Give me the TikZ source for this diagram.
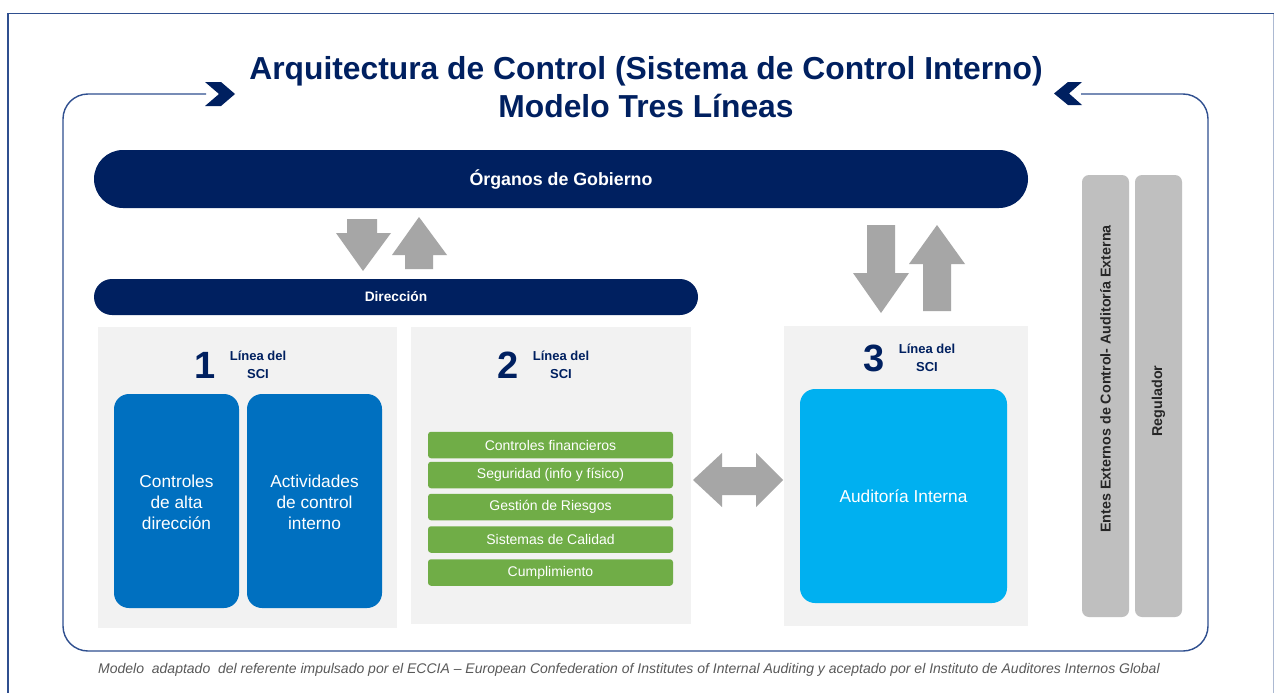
\documentclass[tikz,border=0pt]{standalone}
\usepackage{fontspec}
\setmainfont{Liberation Sans}
\definecolor{navy}{HTML}{002060}
\definecolor{framec}{HTML}{2F4F8F}
\definecolor{panelg}{HTML}{F2F2F2}
\definecolor{blueA}{HTML}{0070C0}
\definecolor{blueB}{HTML}{00B0F0}
\definecolor{greenA}{HTML}{70AD47}
\definecolor{arrowg}{HTML}{A6A6A6}
\definecolor{barg}{HTML}{BFBFBF}
\definecolor{footc}{HTML}{595959}
\begin{document}
\begin{tikzpicture}[x=1pt,y=-1pt,
  titletext/.style={font=\fontsize{31.8}{36}\selectfont\bfseries, text=navy, inner sep=0pt},
  pillbar/.style={fill=navy, draw=none, rounded corners=#1},
  panel/.style={fill=panelg, draw=none},
  bigno/.style={font=\fontsize{38}{40}\selectfont\bfseries, text=navy, inner sep=0pt},
  linelbl/.style={font=\fontsize{13}{15}\selectfont\bfseries, text=navy, inner sep=0pt, anchor=base},
  bluebox/.style={fill=#1, draw=none, rounded corners=15pt},
  boxtext/.style={font=\fontsize{17.3}{21}\selectfont, text=white, align=center, inner sep=0pt},
  greenbar/.style={fill=greenA, draw=none, rounded corners=3pt},
  greentext/.style={font=\fontsize{14}{16}\selectfont, text=white, inner sep=0pt},
  graybar/.style={fill=barg, draw=none, rounded corners=7pt},
  bararrow/.style={fill=arrowg, draw=none},
  chev/.style={fill=navy, draw=none},
  vtext/.style={font=\fontsize{14.3}{16}\selectfont\bfseries, text=black!85, rotate=90, inner sep=0pt}
]
\useasboundingbox (0,0) rectangle (1274,693);
\fill[white] (0,0) rectangle (1274,693);
% outer page border
\draw[framec, line width=1.6pt] (8,693) -- (8,13.5) -- (1275,13.5);
\draw[framec!40, line width=1pt] (1273,14) -- (1273,693);

% title
\node[titletext, anchor=base] (t1) at (646,80) {Arquitectura de Control (Sistema de Control Interno)};
\node[titletext, anchor=base] (t2) at (646,117) {Modelo Tres Líneas};

% surrounding frame with chevrons
\draw[framec, line width=1.4pt, rounded corners=25pt]
  (206,94) -- (63,94) -- (63,651) -- (1208,651) -- (1208,94) -- (1081,94);
\fill[chev] (205,82) -- (221,82) -- (235,94) -- (221,106) -- (205,106) -- (219,94) -- cycle;
\fill[chev] (1082,82) -- (1068,82) -- (1054,93.5) -- (1068,105) -- (1082,105) -- (1069,93.5) -- cycle;

% Organos de Gobierno
\node[pillbar=29pt, minimum width=934pt, minimum height=58pt, inner sep=0pt] (gob) at (561,179) {};
\node[font=\fontsize{17.8}{20}\selectfont\bfseries, text=white, inner sep=0pt] (gobt) at (gob.center) {Órganos de Gobierno};

% Direccion
\node[pillbar=18pt, minimum width=604pt, minimum height=36pt, inner sep=0pt] (dir) at (396,297) {};
\node[font=\fontsize{13.7}{16}\selectfont\bfseries, text=white, inner sep=0pt] (dirt) at (dir.center) {Dirección};

% gray arrows between gobierno and direccion
\fill[bararrow] (347,219) -- (377,219) -- (377,233) -- (391,233) -- (363,271) -- (336,233) -- (347,233) -- cycle;
\fill[bararrow] (405,269) -- (433,269) -- (433,255) -- (447,255) -- (419,217) -- (392,255) -- (405,255) -- cycle;

% gray arrows between gobierno and line 3
\fill[bararrow] (867,225) -- (895,225) -- (895,273) -- (909,273) -- (881,313) -- (853,273) -- (867,273) -- cycle;
\fill[bararrow] (923,311) -- (951,311) -- (951,264) -- (965,264) -- (937,225) -- (909,264) -- (923,264) -- cycle;

% panel 1
\fill[panel] (98,327) rectangle (397,628);
\node[bigno] (n1) at (205,365) {1};
\node[linelbl] (l1a) at (258,360) {Línea del};
\node[linelbl] (l1b) at (258,378) {SCI};
\node[bluebox=blueA, minimum width=125pt, minimum height=214pt, inner sep=0pt] (b1) at (176.5,501) {};
\node[boxtext] (b1t) at (176.5,502) {Controles\\de alta\\dirección};
\node[bluebox=blueA, minimum width=135pt, minimum height=214pt, inner sep=0pt] (b2) at (314.5,501) {};
\node[boxtext] (b2t) at (314.5,502) {Actividades\\de control\\interno};

% panel 2
\fill[panel] (411,327) rectangle (691,624);
\node[bigno] (n2) at (508,365) {2};
\node[linelbl] (l2a) at (561,360) {Línea del};
\node[linelbl] (l2b) at (561,378) {SCI};
\foreach \y/\t/\nm in {445/Controles financieros/g1, 475/Seguridad (info y físico)/g2, 507/Gestión de Riesgos/g3, 539.5/Sistemas de Calidad/g4, 572.5/Cumplimiento/g5}{
  \node[greenbar, minimum width=245pt, minimum height=26.5pt, inner sep=0pt] (\nm) at (550.5,\y) {};
  \node[greentext] at (\nm.center) {\t};
}

% double arrow
\fill[bararrow] (693,480) -- (722,453) -- (722,467) -- (756,467) -- (756,453) -- (783,480) -- (756,507) -- (756,495) -- (722,495) -- (722,507) -- cycle;

% panel 3
\fill[panel] (784,326) rectangle (1028,626);
\node[bigno] (n3) at (874,358) {3};
\node[linelbl] (l3a) at (927,353) {Línea del};
\node[linelbl] (l3b) at (927,371) {SCI};
\node[bluebox=blueB, minimum width=207pt, minimum height=214pt, inner sep=0pt] (b3) at (903.5,496) {};
\node[boxtext] (b3t) at (903.5,496) {Auditoría Interna};

% right gray bars
\node[graybar, minimum width=47pt, minimum height=442pt, inner sep=0pt] (e1) at (1105.5,396) {};
\node[vtext] (e1t) at (1105.5,379) {Entes Externos de Control- Auditoría Externa};
\node[graybar, minimum width=47pt, minimum height=442pt, inner sep=0pt] (e2) at (1158.5,396) {};
\node[vtext] (e2t) at (1158.5,401) {Regulador};

% footnote
\node[font=\fontsize{14}{16}\selectfont\itshape, text=footc, inner sep=0pt] (foot) at (629,670) {Modelo\ \ adaptado\ \ del referente impulsado por el ECCIA – European Confederation of Institutes of Internal Auditing y aceptado por el Instituto de Auditores Internos Global};
\end{tikzpicture}
\end{document}
